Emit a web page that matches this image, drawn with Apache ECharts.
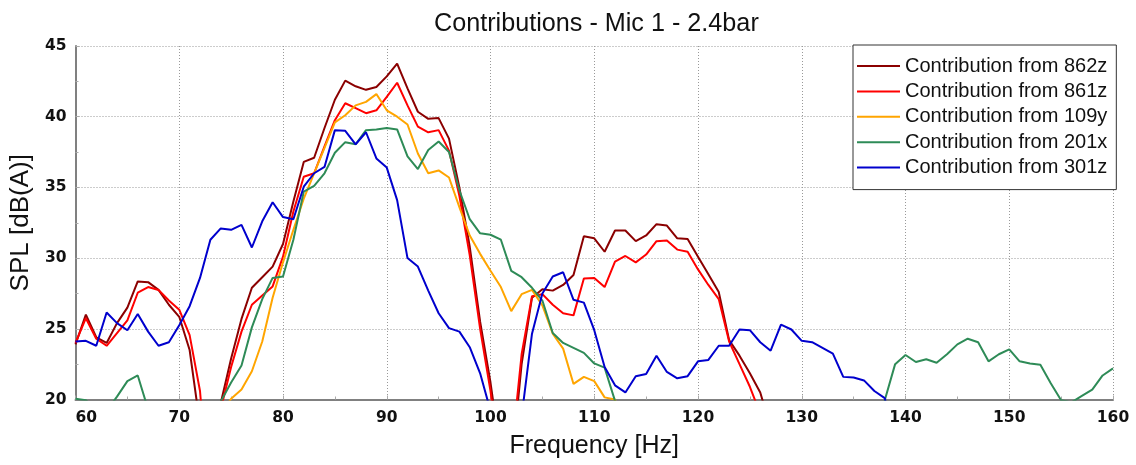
<!DOCTYPE html>
<html>
<head>
<meta charset="utf-8">
<script src="https://cdn.jsdelivr.net/npm/echarts@6/dist/echarts.min.js"></script>
<style>html,body{margin:0;padding:0;background:#fff;}#c{width:1136px;height:465px;}</style>
</head>
<body>
<div id="c"></div>
<script>
const freqs = [60,61,62,63,64,65,66,67,68,69,70,71,72,73,74,75,76,77,78,79,80,81,82,83,84,85,86,87,88,89,90,91,92,93,94,95,96,97,98,99,100,101,102,103,104,105,106,107,108,109,110,111,112,113,114,115,116,117,118,119,120,121,122,123,124,125,126,127,128,129,130,131,132,133,134,135,136,137,138,139,140,141,142,143,144,145,146,147,148,149,150,151,152,153,154,155,156,157,158,159,160];
const xTicks = [60,70,80,90,100,110,120,130,140,150,160];
const yTicks = [20,25,30,35,40,45];
const seriesNames = ['Contribution from 862z','Contribution from 861z','Contribution from 109y','Contribution from 201x','Contribution from 301z'];

const c862z = [23.9,26.0,24.4,24.0,25.4,26.5,28.35,28.3,27.75,26.7,
  25.85,23.5,18.2,12,19.75,22.9,25.7,27.9,28.65,29.4,
  31.0,34.0,36.8,37.1,39.2,41.2,42.55,42.15,41.9,42.1,
  42.85,43.75,42.0,40.35,39.85,39.9,38.45,35.0,30.8,25.5,
  21.2,16,15,22.5,27.2,27.8,27.7,28.1,28.8,31.55,
  31.4,30.45,31.95,31.95,31.2,31.6,32.4,32.3,31.4,31.35,
  30.1,28.85,27.6,24.2,23.1,21.85,20.5,18,null,null,
  null,null,null,null,null,null,null,null,null,null,
  null,null,null,null,null,null,null,null,null,null,
  null,null,null,null,null,null,null,null,null,null,
  null];
const c861z = [24.0,25.75,24.3,23.8,24.7,25.6,27.55,27.95,27.75,27.0,
  26.35,24.55,20.6,12,19.3,22.3,24.8,26.7,27.35,28.0,
  30.1,33.3,35.75,36.0,37.9,39.75,40.95,40.6,40.25,40.45,
  41.4,42.4,40.8,39.3,38.9,39.05,37.6,34.4,30.2,25.0,
  20.6,15,16,23.2,27.3,27.45,26.7,26.1,25.95,28.55,
  28.6,27.95,29.75,30.15,29.7,30.25,31.2,31.25,30.6,30.45,
  29.2,28.1,27.1,24.1,22.5,20.9,19.0,null,null,null,
  null,null,null,null,null,null,null,null,null,null,
  null,null,null,null,null,null,null,null,null,null,
  null,null,null,null,null,null,null,null,null,null,
  null];
const c109y = [null,null,null,null,null,null,null,null,null,null,
  null,null,null,16,19.0,20.05,20.7,22.0,24.1,27.2,
  29.7,32.0,34.2,36.0,37.8,39.6,40.1,40.8,41.05,41.6,
  40.45,40.0,39.45,37.4,36.0,36.2,35.7,33.6,31.6,30.3,
  29.1,27.95,26.25,27.45,27.75,26.65,24.65,23.6,21.1,21.6,
  21.3,20.15,20.0,17,null,null,null,null,null,null,
  null,null,null,null,null,null,null,null,null,null,
  null,null,null,null,null,null,null,null,null,null,
  null,null,null,null,null,null,null,null,null,null,
  null,null,null,null,null,null,null,null,null,null,
  null];
const c201x = [20.05,19.95,19.3,19.2,20.2,21.3,21.7,19.3,17,null,
  null,null,null,17,19.85,21.2,22.4,25.1,27.1,28.6,
  28.7,31.3,34.7,35.1,36.0,37.45,38.2,38.05,39.05,39.1,
  39.2,39.1,37.2,36.3,37.65,38.25,37.5,34.8,32.75,31.75,
  31.65,31.3,29.1,28.65,27.9,27.0,24.7,24.0,23.65,23.3,
  22.55,22.25,19.9,17,null,null,null,null,null,null,
  null,null,null,null,null,null,null,null,null,null,
  null,null,null,null,null,null,null,17,19.95,22.5,
  23.15,22.65,22.85,22.6,23.2,23.9,24.3,24.05,22.7,23.2,
  23.55,22.7,22.55,22.45,21.15,19.95,19.8,20.25,20.7,21.7,
  22.2];
const c301z = [24.1,24.15,23.8,26.15,25.4,24.9,26.05,24.8,23.8,24.05,
  25.25,26.6,28.6,31.3,32.1,32.0,32.35,30.75,32.6,33.95,
  32.9,32.75,35.05,36.0,36.45,39.05,39.0,38.05,38.9,37.05,
  36.4,34.1,30.0,29.4,27.7,26.1,25.05,24.8,23.7,21.85,
  19.2,15,12,18.8,24.65,27.5,28.7,29.0,27.05,26.85,
  24.9,22.3,21.0,20.5,21.65,21.8,23.1,21.95,21.5,21.65,
  22.7,22.8,23.8,23.8,24.95,24.9,24.05,23.45,25.3,24.95,
  24.15,24.05,23.65,23.25,21.6,21.55,21.35,20.6,20.1,17,
  null,null,null,null,null,null,null,null,null,null,
  null,null,null,null,null,null,null,null,null,null,
  null];
const colors = ['#8b0000','#ff0000','#ffa500','#2e8b57','#0000cd'];
const allValues = [c862z,c861z,c109y,c201x,c301z];

const chart = echarts.init(document.getElementById('c'), null, {renderer:'canvas'});
const textFont = 'Liberation Sans';
chart.setOption({
  animation:false,
  backgroundColor:'#ffffff',
  title:{
    text:'Contributions - Mic 1 - 2.4bar',
    left:429, top:7,
    textStyle:{fontFamily:textFont,fontSize:25.2,fontWeight:'normal',color:'#111'}
  },
  legend:{
    orient:'vertical', left:853, top:45,
    backgroundColor:'#fff', borderColor:'#333', borderWidth:1,
    padding:[11,9,12,4],
    icon:'rect',
    itemWidth:43, itemHeight:2, itemGap:5.4,
    textStyle:{fontFamily:textFont,fontSize:20,lineHeight:20,color:'#111'},
    data:seriesNames
  },
  grid:{left:75.5,right:23,top:46,bottom:65.5,containLabel:false},
  xAxis:{
    type:'value', min:xTicks[0], max:xTicks[xTicks.length-1], interval:10,
    name:'Frequency [Hz]', nameLocation:'middle', nameGap:34,
    nameTextStyle:{fontFamily:textFont,fontSize:25,color:'#111'},
    axisLine:{show:true,onZero:false,lineStyle:{color:'#808080',width:2}},
    axisTick:{show:true,inside:true,length:4,lineStyle:{color:'#aaa'}},
    minorTick:{show:true,splitNumber:2,length:3,lineStyle:{color:'#aaa'}},
    axisLabel:{fontFamily:'DejaVu Sans',fontWeight:'bold',fontSize:15.5,color:'#111',margin:10,alignMinLabel:'left'},
    splitLine:{show:true,lineStyle:{color:'#999999',width:1,type:[1,2]}}
  },
  yAxis:{
    type:'value', min:yTicks[0], max:yTicks[yTicks.length-1], interval:5,
    name:'SPL [dB(A)]', nameLocation:'middle', nameGap:36, nameRotate:90,
    nameTextStyle:{fontFamily:textFont,fontSize:26,color:'#111'},
    axisLine:{show:true,lineStyle:{color:'#808080',width:2}},
    axisTick:{show:true,inside:true,length:4,lineStyle:{color:'#aaa'}},
    minorTick:{show:true,splitNumber:2,length:3,lineStyle:{color:'#aaa'}},
    axisLabel:{fontFamily:'DejaVu Sans',fontWeight:'bold',fontSize:15.5,color:'#111',margin:9},
    splitLine:{show:true,lineStyle:{color:'#999999',width:1,type:[1,2]}}
  },
  series: seriesNames.map((n,i)=>({
    name:n, type:'line', symbol:'none', showSymbol:false, clip:true, connectNulls:false,
    lineStyle:{color:colors[i],width:2}, itemStyle:{color:colors[i]},
    data: freqs.map((f,k)=>[f, allValues[i][k]])
  }))
});
</script>
</body>
</html>
